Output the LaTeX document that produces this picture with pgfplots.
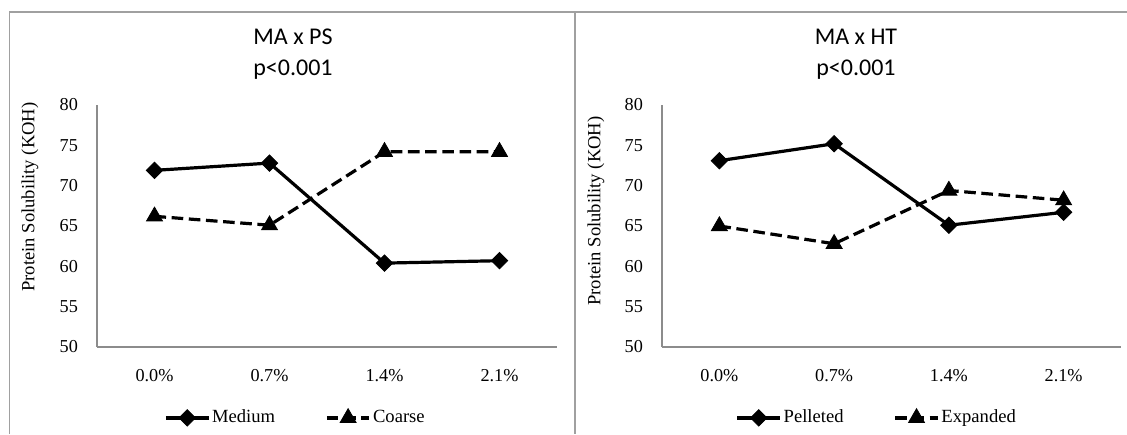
\documentclass[border=0pt]{standalone}
\usepackage{fontspec}
\setmainfont{Liberation Serif}
\newfontfamily\titlefont{Carlito}
\usepackage{pgfplots}
\pgfplotsset{compat=1.18}

\definecolor{framegray}{HTML}{A0A0A0}
\definecolor{axgray}{HTML}{8C8C8C}

\pgfplotsset{
  panel/.style={
    scale only axis, width=230pt, height=121pt,
    anchor=south west,
    xmin=-0.5, xmax=3.5, ymin=50, ymax=80,
    xtick={0,1,2,3}, xticklabels={0.0\%,0.7\%,1.4\%,2.1\%},
    ytick={50,55,...,80},
    axis x line=bottom, axis y line=left,
    axis line style={-, draw=axgray, line width=0.6pt},
    major tick length=0pt,
    tick label style={font=\fontsize{9.1}{10}\selectfont},
    xticklabel style={yshift=-7.5pt},
    yticklabel style={xshift=-6pt},
    /pgf/number format/assume math mode=true,
    clip=false,
    legend columns=2,
    legend style={draw=none, anchor=center, font=\fontsize{9.3}{10}\selectfont,
      /tikz/every even column/.append style={column sep=24pt},
      nodes={inner sep=1pt}},
    legend image code/.code={
      \draw[mark repeat=2,mark phase=2] plot coordinates {(0cm,0cm) (0.375cm,0cm) (0.75cm,0cm)};},
  },
  solidser/.style={black, line width=1.6pt, solid, mark=square*, mark size=2.9pt,
    mark options={solid, rotate=45, line width=0.4pt}},
  dashser/.style={black, line width=1.6pt, dash pattern=on 5.8pt off 2.8pt, mark=triangle*, mark size=4.6pt,
    mark options={solid, line width=0.4pt}},
}

\begin{document}
\begin{tikzpicture}
\path[use as bounding box] (0pt,0pt) rectangle (563.5pt,-217pt);
\draw[framegray, line width=0.8pt] (4.75pt,-217pt) -- (4.75pt,-6pt) -- (563.5pt,-6pt);
\draw[framegray, line width=0.8pt] (287.5pt,-6pt) -- (287.5pt,-217pt);

% MA x PS
\begin{axis}[panel, at={(48.5pt,-173.5pt)},
  legend style={at={(0.4315,-0.293)}}]
\addplot[solidser] coordinates {(0,71.9) (1,72.8) (2,60.4) (3,60.7)};
\addplot[dashser] coordinates {(0,66.2) (1,65.1) (2,74.2) (3,74.2)};
\legend{Medium, Coarse}
\end{axis}

% MA x HT
\begin{axis}[panel, width=229.5pt, at={(331pt,-173.5pt)},
  legend style={at={(0.468,-0.293)}}]
\addplot[solidser] coordinates {(0,73.1) (1,75.2) (2,65.1) (3,66.7)};
\addplot[dashser] coordinates {(0,65.0) (1,62.8) (2,69.4) (3,68.2)};
\legend{Pelleted, Expanded}
\end{axis}

\node[font=\titlefont\fontsize{12}{15.5}\selectfont, align=center] at (146.5pt,-27.25pt) {MA x PS\\p<0.001};
\node[font=\titlefont\fontsize{12}{15.5}\selectfont, align=center] at (428pt,-27.25pt) {MA x HT\\p<0.001};
\node[rotate=90, font=\fontsize{9.3}{10}\selectfont] at (15pt,-98.5pt) {Protein Solubility (KOH)};
\node[rotate=90, font=\fontsize{9.3}{10}\selectfont] at (298pt,-105.5pt) {Protein Solubility (KOH)};
\end{tikzpicture}
\end{document}
